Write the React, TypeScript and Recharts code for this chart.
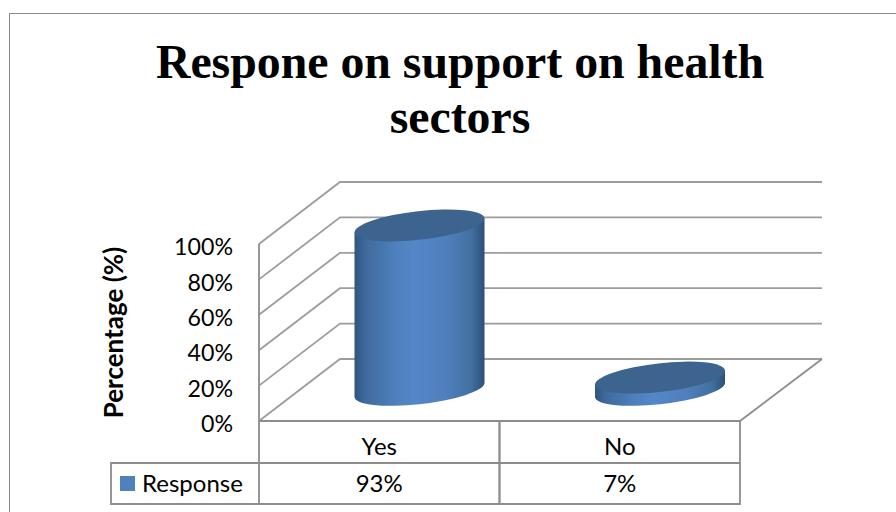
import { Bar, BarChart, CartesianGrid, XAxis, YAxis } from 'recharts'

const categories = ['Yes', 'No']
const responseValues = [0.93, 0.07]
const yTicks = [0, 0.2, 0.4, 0.6, 0.8, 1]
const seriesName = 'Response'
const titleLines = ['Respone on support on health', 'sectors']

const chartData = categories.map((name, i) => ({ name, response: responseValues[i] }))

const FONT = 'Lato, "Noto Sans", sans-serif'
const LINE = '#8c8c8c'
const DEPTH_X = 81
const DEPTH_Y = 62

const pct = (v: number) => `${Math.round(v * 100)}%`

// back wall + floor, the 3d look is just an offset from the front plane
const WallLine = (props: any) => {
  const { x1, x2, y1, y, height } = props
  const isFloor = Math.abs(y1 - (y + height)) < 1
  return (
    <g key={`wall-${y1}`}>
      <polyline
        points={`${x1},${y1} ${x1 + DEPTH_X},${y1 - DEPTH_Y} ${x2 + DEPTH_X + 1},${y1 - DEPTH_Y}`}
        fill="none"
        stroke="#9c9c9c"
        strokeWidth={1.8}
      />
      {isFloor && (
        <polyline
          points={`${x1},${y1} ${x2},${y1} ${x2 + DEPTH_X + 1},${y1 - DEPTH_Y}`}
          fill="none"
          stroke={LINE}
          strokeWidth={1.8}
        />
      )}
    </g>
  )
}

const Cylinder = (props: any) => {
  const { x, y, width, height } = props
  const r = width / 2
  const cx = x + r + DEPTH_X / 2
  const top = y - DEPTH_Y / 2
  const bottom = y + height - DEPTH_Y / 2
  const rx = r + 0.4
  const ry = 14.3
  const rot = -6.45
  const skew = 7
  const left = cx - r
  const right = cx + r
  const body =
    `M${left},${top + skew} L${left},${bottom + skew} ` +
    `A${rx},${ry} ${rot} 0 0 ${right},${bottom - skew} ` +
    `L${right},${top - skew} Z`
  return (
    <g>
      <path d={body} fill="url(#cylinderFill)" />
      <ellipse
        cx={cx}
        cy={top}
        rx={rx}
        ry={ry}
        fill="#3d638f"
        transform={`rotate(${rot} ${cx} ${top})`}
      />
    </g>
  )
}

// the data table below the plot is drawn by the category ticks
const TableTick = (props: any) => {
  const { x, y, index, payload } = props
  const cellW = 240.5
  const top = y
  const mid = top + 42
  const bot = top + 83
  const l = x - cellW / 2
  const r = x + cellW / 2
  return (
    <g>
      <polyline points={`${l},${top} ${l},${bot} ${r},${bot} ${r},${top}`} fill="none" stroke={LINE} strokeWidth={1.8} />
      <line x1={l} x2={r} y1={mid} y2={mid} stroke={LINE} strokeWidth={1.8} />
      <text x={x} y={top + 34} textAnchor="middle" fontSize={24} fontFamily={FONT} fill="#000">
        {payload.value}
      </text>
      <text x={x} y={top + 71} textAnchor="middle" fontSize={24} fontFamily={FONT} fill="#000">
        {pct(responseValues[index])}
      </text>
      {index === 0 && (
        <g>
          <polyline points={`${l},${mid} 111,${mid} 111,${bot} ${l},${bot}`} fill="none" stroke={LINE} strokeWidth={1.8} />
          <rect x={120} y={mid + 13} width={15} height={15} fill="#4f81bd" />
          <text x={142} y={top + 71} fontSize={24} fontFamily={FONT} fill="#000">
            {seriesName}
          </text>
        </g>
      )}
    </g>
  )
}

export default function App() {
  return (
    <div style={{ position: 'absolute', left: 0, top: 0, width: 896, height: 512, overflow: 'hidden', background: '#fff' }}>
      <div
        style={{
          position: 'absolute',
          left: 9,
          top: 13,
          width: 900,
          height: 520,
          borderLeft: '1.5px solid #8c8c8c',
          borderTop: '1.5px solid #8c8c8c',
        }}
      />
      <div
        style={{
          position: 'absolute',
          left: 10,
          width: 900,
          top: 34,
          textAlign: 'center',
          fontFamily: '"Liberation Serif", serif',
          fontWeight: 'bold',
          fontSize: 47.8,
          lineHeight: '55px',
          color: '#000',
        }}
      >
        {titleLines.map((t) => (
          <div key={t}>{t}</div>
        ))}
      </div>
      <div style={{ position: 'absolute', left: 0, top: 0 }}>
        <BarChart
          width={896}
          height={512}
          data={chartData}
          margin={{ top: 244, right: 156, bottom: 7, left: 100 }}
          barSize={130}
        >
          <defs>
            <linearGradient id="cylinderFill" x1="0" x2="1" y1="0" y2="0">
              <stop offset="0" stopColor="#2f5480" />
              <stop offset="0.08" stopColor="#3f6a9c" />
              <stop offset="0.3" stopColor="#4d7fbb" />
              <stop offset="0.45" stopColor="#5487c8" />
              <stop offset="0.7" stopColor="#4f80bd" />
              <stop offset="0.9" stopColor="#41709f" />
              <stop offset="1" stopColor="#2d4f78" />
            </linearGradient>
          </defs>
          <CartesianGrid vertical={false} horizontal={WallLine} />
          <XAxis
            dataKey="name"
            interval={0}
            height={84}
            axisLine={false}
            tickLine={false}
            tickSize={0}
            tick={TableTick}
            tickMargin={0}
          />
          <YAxis
            type="number"
            domain={[0, 1]}
            ticks={yTicks}
            width={159}
            tickFormatter={pct}
            tickLine={false}
            tickMargin={20}
            axisLine={{ stroke: LINE, strokeWidth: 1.8 }}
            tick={{ fontSize: 23.2, fontFamily: FONT, fill: '#000', dy: 3 }}
            label={{
              value: 'Percentage (%)',
              angle: -90,
              position: 'insideLeft',
              offset: 0,
              dx: 14,
              dy: 0,
              style: { fontSize: 26, fontWeight: 'bold', fontFamily: FONT, fill: '#000', textAnchor: 'middle' },
            }}
          />
          <Bar dataKey="response" name={seriesName} shape={Cylinder} isAnimationActive={false} />
        </BarChart>
      </div>
    </div>
  )
}
